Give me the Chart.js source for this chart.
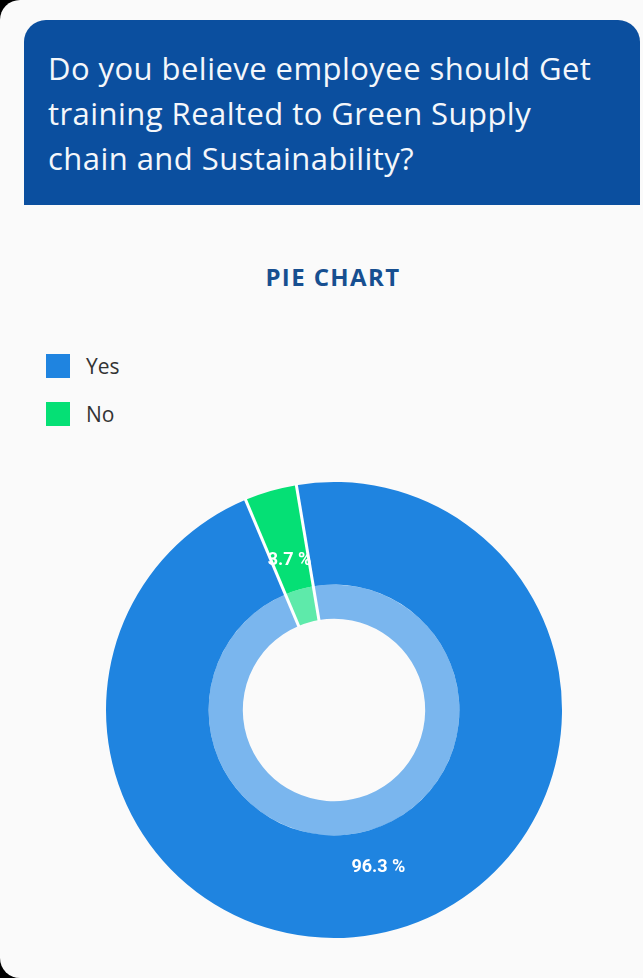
<!DOCTYPE html>
<html>
<head>
<meta charset="utf-8">
<script src="https://cdn.jsdelivr.net/npm/chart.js@4.4.1/dist/chart.umd.min.js"></script>
<style>
  html, body { margin: 0; padding: 0; }
  body { width: 643px; height: 978px; overflow: hidden; background: #000; position: relative; }
  .screen {
    position: absolute; left: 0; top: 0; width: 643px; height: 978px;
    background: #fafafa; border-radius: 20px 0 0 20px;
  }
  .header {
    position: absolute; left: 24px; top: 20px; width: 616px; height: 185px;
    background: #0b4f9f; border-radius: 22px 22px 0 0;
  }
  .header p {
    position: absolute; left: 24px; top: 26px; margin: 0; width: 590px; white-space: nowrap;
    font-family: "Open Sans", sans-serif; font-size: 31px; letter-spacing: 0.45px; line-height: 45px; color: #f4f7fb;
  }
  .title {
    position: absolute; left: 0; width: 666px; top: 260px; text-align: center;
    font-family: "Open Sans", sans-serif; font-weight: bold; font-size: 24px; letter-spacing: 1.4px; color: #174f90;
  }
  .legend { position: absolute; left: 46px; top: 354px; font-family: "Open Sans", sans-serif; font-size: 21px; color: #333; }
  .legend div { position: relative; height: 48px; }
  .legend span.box { position: absolute; left: 0; top: 0; width: 24px; height: 24px; }
  .legend span.txt { position: absolute; left: 40px; top: -2px; line-height: 28px; }
  #wrap { position: absolute; left: 96px; top: 472px; width: 476px; height: 476px; }
</style>
</head>
<body>
<div class="screen">
  <div class="header"><p>Do you believe employee should Get<br>training Realted to Green Supply<br>chain and Sustainability?</p></div>
  <div class="title">PIE CHART</div>
  <div class="legend" id="legend"></div>
  <div id="wrap"><canvas id="pie"></canvas></div>
</div>
<script>
const labels = ['Yes', 'No'];
const shares = [96.3, 3.7];
const colors = ['#1f84e0', '#05e075'];
const innerColors = ['#7ab6ee', '#5eeaaa'];

// legend
const legend = document.getElementById('legend');
labels.forEach((l, i) => {
  const row = document.createElement('div');
  row.innerHTML = '<span class="box" style="background:' + colors[i] + '"></span><span class="txt">' + l + '</span>';
  legend.appendChild(row);
});

// white separators between slices, and the percent labels
const slicePlugin = {
  id: 'slices',
  afterDatasetsDraw(chart) {
    const ctx = chart.ctx;
    const outer = chart.getDatasetMeta(0).data;
    const inner = chart.getDatasetMeta(1).data;
    const total = shares.reduce((a, b) => a + b, 0);
    ctx.save();
    ctx.strokeStyle = '#ffffff';
    ctx.lineWidth = 3;
    outer.forEach((arc) => {
      const r0 = inner[0].innerRadius - 1, r1 = arc.outerRadius + 1;
      ctx.beginPath();
      ctx.moveTo(arc.x + Math.cos(arc.startAngle) * r0, arc.y + Math.sin(arc.startAngle) * r0);
      ctx.lineTo(arc.x + Math.cos(arc.startAngle) * r1, arc.y + Math.sin(arc.startAngle) * r1);
      ctx.stroke();
    });
    ctx.fillStyle = '#ffffff';
    ctx.font = 'bold 18px Roboto, Arial, sans-serif';
    ctx.textAlign = 'center';
    ctx.textBaseline = 'middle';
    outer.forEach((arc, i) => {
      const mid = (arc.startAngle + arc.endAngle) / 2;
      const r = (arc.outerRadius + inner[i].innerRadius) / 2;
      const txt = (shares[i] / total * 100).toFixed(1) + ' %';
      ctx.fillText(txt, arc.x + Math.cos(mid) * r, arc.y + Math.sin(mid) * r + 4);
    });
    ctx.restore();
  }
};

new Chart(document.getElementById('pie').getContext('2d'), {
  type: 'doughnut',
  data: {
    labels: labels,
    datasets: [
      { data: shares, backgroundColor: colors, borderWidth: 0, weight: 3 },
      { data: shares, backgroundColor: innerColors, borderWidth: 0, weight: 1 }
    ]
  },
  options: {
    responsive: true,
    maintainAspectRatio: false,
    animation: false,
    cutout: '40%',
    rotation: -9.5,
    layout: { padding: 10 },
    plugins: {
      legend: { display: false },
      tooltip: { enabled: false }
    }
  },
  plugins: [slicePlugin]
});
</script>
</body>
</html>
